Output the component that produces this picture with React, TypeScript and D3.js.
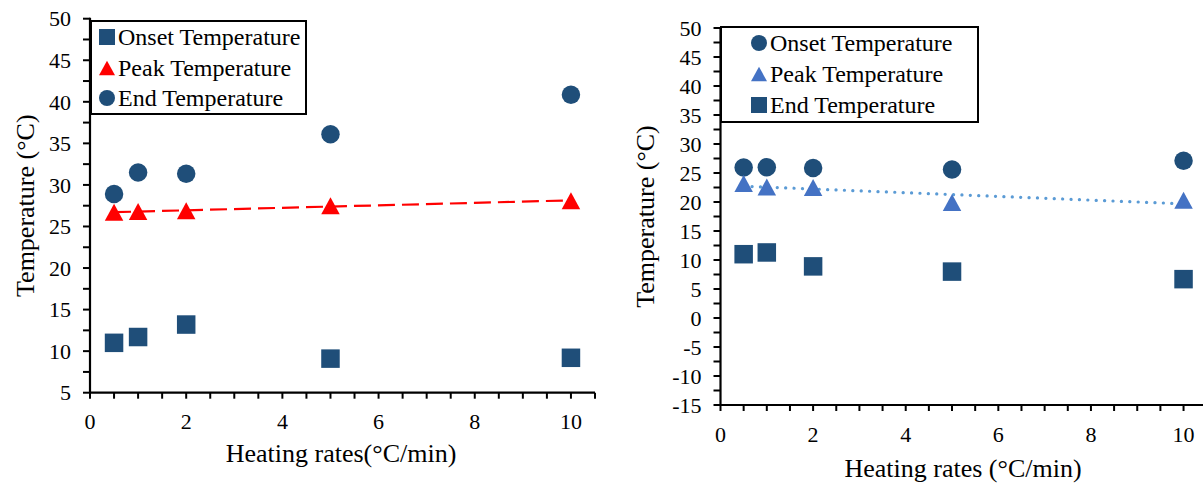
import * as d3 from 'd3';

// heating rates (°C/min)
const rates = [0.5, 1, 2, 5, 10];

// left panel
const leftOnset = [11.0, 11.7, 13.2, 9.1, 9.2];
const leftPeak = [26.7, 26.8, 26.9, 27.5, 28.1];
const leftEnd = [28.9, 31.5, 31.35, 36.1, 40.85];
const leftYTicks = [5, 10, 15, 20, 25, 30, 35, 40, 45, 50];

// right panel
const rightOnset = [25.95, 26.0, 25.85, 25.6, 27.1];
const rightPeak = [23.2, 22.6, 22.5, 19.9, 20.3];
const rightEnd = [11.0, 11.3, 8.9, 8.0, 6.7];
const rightYTicks = [-15, -10, -5, 0, 5, 10, 15, 20, 25, 30, 35, 40, 45, 50];

const xTicks = [0, 2, 4, 6, 8, 10];

const DARK = '#1F4E79';
const FONT = '"Liberation Serif", "Times New Roman", serif';

type Marker = 'square' | 'triangle' | 'circle';

function Mark({ type, x, y, color, size = 18.5 }: { type: Marker; x: number; y: number; color: string; size?: number }) {
  if (type === 'square') {
    return <rect x={x - size / 2} y={y - size / 2} width={size} height={size} fill={color} />;
  }
  if (type === 'circle') {
    return <circle cx={x} cy={y} r={size / 2} fill={color} />;
  }
  const h = size * 0.92;
  const p = `M${x},${y - h / 2} L${x + size / 2},${y + h / 2} L${x - size / 2},${y + h / 2} Z`;
  return <path d={p} fill={color} />;
}

function regression(xs: number[], ys: number[]) {
  const mx = d3.mean(xs) as number;
  const my = d3.mean(ys) as number;
  const num = d3.sum(xs, (x, i) => (x - mx) * (ys[i] - my));
  const den = d3.sum(xs, x => (x - mx) * (x - mx));
  const b = num / den;
  const a = my - b * mx;
  return (x: number) => a + b * x;
}

interface Series {
  name: string;
  values: number[];
  marker: Marker;
  color: string;
}

interface PanelProps {
  x0: number;
  x1: number;
  yTop: number;
  yBottom: number;
  yDomain: [number, number];
  yTicks: number[];
  series: Series[];
  trendIndex: number;
  trendColor: string;
  trendDash: string;
  trendCap: 'butt' | 'round';
  trendWidth: number;
  legend: { x0: number; x1: number; y0: number; y1: number; rows: number[]; markerX: number; textX: number };
  xTitle: string;
  xTitleX: number;
  xTitleY: number;
  yTitleX: number;
  xTickY: number;
}

function Panel(p: PanelProps) {
  const x = d3.scaleLinear().domain([0, 10.5]).range([p.x0, p.x1]);
  const y = d3.scaleLinear().domain(p.yDomain).range([p.yBottom, p.yTop]);
  const minorX = d3.range(0, 10.51, 0.5);
  const minorY = d3.range(p.yDomain[0], p.yDomain[1] + 0.01, 2.5);
  const ts = p.series[p.trendIndex];
  const fit = regression(rates, ts.values);
  const [tx0, tx1] = d3.extent(rates) as [number, number];
  const trend = d3.line<number>().x(d => x(d)).y(d => y(fit(d)))([tx0, tx1]) as string;
  const yMid = (p.yTop + p.yBottom) / 2;

  return (
    <g>
      {/* legend */}
      <rect x={p.legend.x0} y={p.legend.y0} width={p.legend.x1 - p.legend.x0} height={p.legend.y1 - p.legend.y0}
        fill="white" stroke="black" strokeWidth={2} />
      {p.series.map((s, i) => (
        <g key={s.name}>
          <Mark type={s.marker} x={p.legend.markerX} y={p.legend.rows[i]} color={s.color} size={16} />
          <text x={p.legend.textX} y={p.legend.rows[i]} dy="0.35em" fontSize={24} fontFamily={FONT}>{s.name}</text>
        </g>
      ))}

      {/* axes */}
      <line x1={p.x0} x2={p.x0} y1={p.yTop - 1} y2={p.yBottom} stroke="black" strokeWidth={2.2} />
      <line x1={p.x0} x2={p.x1} y1={p.yBottom} y2={p.yBottom} stroke="black" strokeWidth={2.2} />
      {minorY.map(v => (
        <line key={'y' + v} x1={p.x0 - 7} x2={p.x0} y1={y(v)} y2={y(v)} stroke="black" strokeWidth={2} />
      ))}
      {minorX.map(v => (
        <line key={'x' + v} x1={x(v)} x2={x(v)} y1={p.yBottom} y2={p.yBottom + 6} stroke="black" strokeWidth={2} />
      ))}
      {p.yTicks.map(v => (
        <text key={'yl' + v} x={p.x0 - 19} y={y(v)} dy="0.35em" textAnchor="end" fontSize={22} fontFamily={FONT}>{v}</text>
      ))}
      {xTicks.map(v => (
        <text key={'xl' + v} x={x(v)} y={p.xTickY} textAnchor="middle" fontSize={22} fontFamily={FONT}>{v}</text>
      ))}
      <text x={p.xTitleX} y={p.xTitleY} textAnchor="middle" fontSize={26} fontFamily={FONT}>{p.xTitle}</text>
      <text transform={`translate(${p.yTitleX},${yMid}) rotate(-90)`} textAnchor="middle" dy="0.35em"
        fontSize={26} fontFamily={FONT}>Temperature (°C)</text>

      {/* trendline */}
      <path d={trend} fill="none" stroke={p.trendColor} strokeWidth={p.trendWidth}
        strokeDasharray={p.trendDash} strokeLinecap={p.trendCap} />

      {/* points */}
      {p.series.map(s => (
        <g key={'pts' + s.name}>
          {rates.map((r, i) => (
            <Mark key={r} type={s.marker} x={x(r)} y={y(s.values[i])} color={s.color} />
          ))}
        </g>
      ))}
    </g>
  );
}

export default function App() {
  const leftSeries: Series[] = [
    { name: 'Onset Temperature', values: leftOnset, marker: 'square', color: DARK },
    { name: 'Peak Temperature', values: leftPeak, marker: 'triangle', color: '#FF0000' },
    { name: 'End Temperature', values: leftEnd, marker: 'circle', color: DARK },
  ];
  const rightSeries: Series[] = [
    { name: 'Onset Temperature', values: rightOnset, marker: 'circle', color: DARK },
    { name: 'Peak Temperature', values: rightPeak, marker: 'triangle', color: '#4472C4' },
    { name: 'End Temperature', values: rightEnd, marker: 'square', color: DARK },
  ];

  return (
    <svg width={1203} height={483} style={{ position: 'absolute', left: 0, top: 0, background: 'white' }}>
      <Panel
        x0={90} x1={595} yTop={18.7} yBottom={392.7} yDomain={[5, 50]} yTicks={leftYTicks}
        series={leftSeries} trendIndex={1} trendColor="#FF0000" trendDash="17,7" trendCap="butt" trendWidth={2.2}
        legend={{ x0: 91, x1: 306, y0: 21, y1: 114, rows: [37, 68, 98], markerX: 107, textX: 118 }}
        xTitle="Heating rates(°C/min)" xTitleX={341} xTitleY={462} yTitleX={25} xTickY={429}
      />
      <Panel
        x0={720.5} x1={1206.7} yTop={28} yBottom={405} yDomain={[-15, 50]} yTicks={rightYTicks}
        series={rightSeries} trendIndex={1} trendColor="#5B9BD5" trendDash="0.1,8.3" trendCap="round" trendWidth={3.2}
        legend={{ x0: 721, x1: 978, y0: 27, y1: 122, rows: [43, 74, 105], markerX: 759, textX: 770 }}
        xTitle="Heating rates (°C/min)" xTitleX={963} xTitleY={477} yTitleX={645} xTickY={442}
      />
    </svg>
  );
}
